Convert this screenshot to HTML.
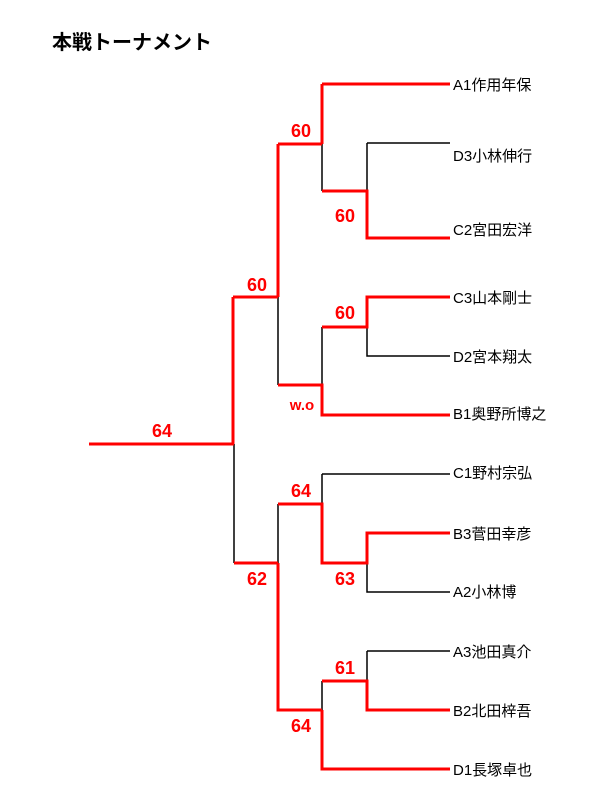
<!DOCTYPE html>
<html><head><meta charset="utf-8"><style>
html,body{margin:0;padding:0;background:#fff;width:600px;height:800px;overflow:hidden}
svg{display:block}
.r{stroke:#ff0000;stroke-width:3;fill:none}
.k{stroke:#000;stroke-width:1.5;fill:none}
.s{fill:#ff0000;font:bold 18px "Liberation Sans",sans-serif;text-anchor:middle}
.n{fill:#000;font:15px "Liberation Sans","Noto Sans CJK JP",sans-serif}
</style></head><body>
<svg width="600" height="800" viewBox="0 0 600 800">
<text x="52" y="49" style="font:bold 20px 'Liberation Sans','Noto Sans CJK JP',sans-serif">本戦トーナメント</text>
<path class="k" d="M367 143H450 M367 143V191 M322 144V191 M367 327V356H450 M278 297V385 M322 327V385 M234 444V563 M322 474H450 M322 474V504 M278 504V563 M367 563V592H450 M367 651H450 M367 651V681 M322 681V710"/>
<path class="r" d="M322 84H450 M322 84V144 M278 144H322 M322 191H367V238H450 M278 144V297 M233 297H278 M322 327H367V297H450 M278 385H322V415H450 M233 297V444 M89 444H234 M234 563H278 M278 504H322V563H367V533H450 M278 563V710H322 M322 681H367V710H450 M322 710V769H450"/>
<g class="s">
<text x="301" y="137">60</text>
<text x="345" y="222">60</text>
<text x="345" y="319">60</text>
<text x="257" y="291">60</text>
<text x="302" y="410" style="font-size:15px">w.o</text>
<text x="162" y="437">64</text>
<text x="257" y="585">62</text>
<text x="301" y="497">64</text>
<text x="345" y="585">63</text>
<text x="345" y="674">61</text>
<text x="301" y="732">64</text>
</g>
<g class="n">
<text x="453" y="90">A1作用年保</text>
<text x="453" y="161">D3小林伸行</text>
<text x="453" y="235">C2宮田宏洋</text>
<text x="453" y="303">C3山本剛士</text>
<text x="453" y="362">D2宮本翔太</text>
<text x="453" y="419">B1奥野所博之</text>
<text x="453" y="478">C1野村宗弘</text>
<text x="453" y="539">B3菅田幸彦</text>
<text x="453" y="597">A2小林博</text>
<text x="453" y="657">A3池田真介</text>
<text x="453" y="716">B2北田梓吾</text>
<text x="453" y="775">D1長塚卓也</text>
</g>
</svg>
</body></html>
